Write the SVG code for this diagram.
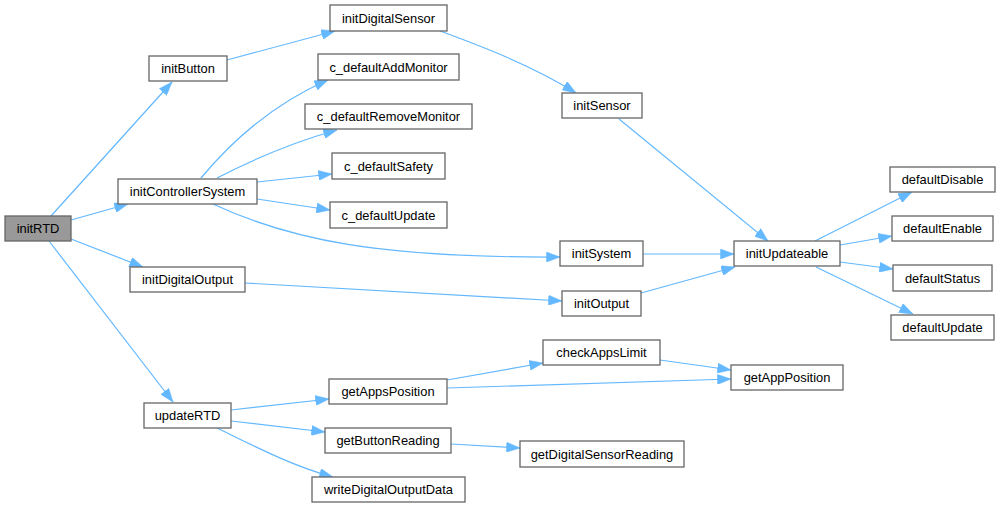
<svg xmlns="http://www.w3.org/2000/svg" width="1000" height="508" viewBox="0 0 1000 508">
<defs>
<style>
.n rect{fill:#fff;stroke:#666;stroke-width:1.3}
.n.root rect{fill:#999}
.n text{font-family:"Liberation Sans",Arial,sans-serif;font-size:12.9px;fill:#000;text-anchor:middle}
.e path{fill:none;stroke:#63b8ff;stroke-width:1.2;marker-end:url(#ah)}
</style>
<marker id="ah" markerUnits="userSpaceOnUse" markerWidth="14" markerHeight="10" viewBox="0 0 13.5 10" refX="13.5" refY="5" orient="auto">
<path d="M0,0 L13.5,5 L0,10 z" fill="#63b8ff" stroke="#63b8ff" stroke-width="0.5"/>
</marker>
</defs>
<rect width="1000" height="508" fill="#fff"/>
<g id="connectors" class="e">
<path d="M51,216 L172,82"/>
<path d="M71,220 L128,204"/>
<path d="M71,239 L143,267"/>
<path d="M49,241 L173,402"/>
<path d="M227,60 L335,31"/>
<path d="M201,178 C226,148 268,106 328,80"/>
<path d="M217,178 C250,161 290,143 337,130"/>
<path d="M257,182 L332,174"/>
<path d="M257,199 L330,210"/>
<path d="M213,204 C290,240 380,258 560,257"/>
<path d="M245,283 L562,301"/>
<path d="M440,31 C475,44 530,64 576,93"/>
<path d="M619,119 L768,241"/>
<path d="M643,254 L734,254"/>
<path d="M641,293 L735,267"/>
<path d="M815,241 L912,192"/>
<path d="M840,245 L892,236"/>
<path d="M840,262 L893,269"/>
<path d="M816,267 L913,314"/>
<path d="M231,410 L329,399"/>
<path d="M231,421 L325,432"/>
<path d="M217,428 C252,445 292,466 333,477"/>
<path d="M447,380 L543,363"/>
<path d="M447,388 L731,379"/>
<path d="M660,360 L731,370"/>
<path d="M451,444 L520,448"/>
</g>
<g id="initRTD" class="n root"><rect x="5" y="216" width="66" height="25"/><text x="38" y="233">initRTD</text></g>
<g id="initButton" class="n"><rect x="149" y="56" width="78" height="25"/><text x="188" y="73">initButton</text></g>
<g id="initDigitalSensor" class="n"><rect x="330" y="5" width="117" height="26"/><text x="388.5" y="22.5">initDigitalSensor</text></g>
<g id="c_defaultAddMonitor" class="n"><rect x="318" y="54" width="141" height="26"/><text x="388.5" y="71.5">c_defaultAddMonitor</text></g>
<g id="c_defaultRemoveMonitor" class="n"><rect x="305" y="104" width="167" height="25"/><text x="388.5" y="121">c_defaultRemoveMonitor</text></g>
<g id="c_defaultSafety" class="n"><rect x="332" y="153" width="113" height="26"/><text x="388.5" y="170.5">c_defaultSafety</text></g>
<g id="initControllerSystem" class="n"><rect x="118" y="179" width="139" height="25"/><text x="187.5" y="196">initControllerSystem</text></g>
<g id="c_defaultUpdate" class="n"><rect x="330" y="202" width="117" height="26"/><text x="388.5" y="219.5">c_defaultUpdate</text></g>
<g id="initDigitalOutput" class="n"><rect x="130" y="267" width="115" height="25"/><text x="187.5" y="284">initDigitalOutput</text></g>
<g id="updateRTD" class="n"><rect x="144" y="403" width="87" height="25"/><text x="187.5" y="420">updateRTD</text></g>
<g id="getAppsPosition" class="n"><rect x="329" y="379" width="118" height="25"/><text x="388" y="396">getAppsPosition</text></g>
<g id="getButtonReading" class="n"><rect x="325" y="428" width="126" height="25"/><text x="388" y="445">getButtonReading</text></g>
<g id="writeDigitalOutputData" class="n"><rect x="312" y="477" width="153" height="25"/><text x="388.5" y="494">writeDigitalOutputData</text></g>
<g id="initSensor" class="n"><rect x="562" y="93" width="80" height="25"/><text x="602" y="110">initSensor</text></g>
<g id="initSystem" class="n"><rect x="560" y="241" width="83" height="25"/><text x="601.5" y="258">initSystem</text></g>
<g id="initOutput" class="n"><rect x="562" y="291" width="79" height="25"/><text x="601.5" y="308">initOutput</text></g>
<g id="checkAppsLimit" class="n"><rect x="543" y="340" width="117" height="25"/><text x="601.5" y="357">checkAppsLimit</text></g>
<g id="getDigitalSensorReading" class="n"><rect x="520" y="441" width="164" height="26"/><text x="602" y="458.5">getDigitalSensorReading</text></g>
<g id="initUpdateable" class="n"><rect x="734" y="241" width="106" height="25"/><text x="787" y="258">initUpdateable</text></g>
<g id="getAppPosition" class="n"><rect x="731" y="365" width="112" height="25"/><text x="787" y="382">getAppPosition</text></g>
<g id="defaultDisable" class="n"><rect x="890" y="167" width="105" height="25"/><text x="942.5" y="184">defaultDisable</text></g>
<g id="defaultEnable" class="n"><rect x="892" y="216" width="101" height="25"/><text x="942.5" y="233">defaultEnable</text></g>
<g id="defaultStatus" class="n"><rect x="893" y="265" width="99" height="26"/><text x="942.5" y="282.5">defaultStatus</text></g>
<g id="defaultUpdate" class="n"><rect x="891" y="315" width="103" height="25"/><text x="942.5" y="332">defaultUpdate</text></g>
</svg>
